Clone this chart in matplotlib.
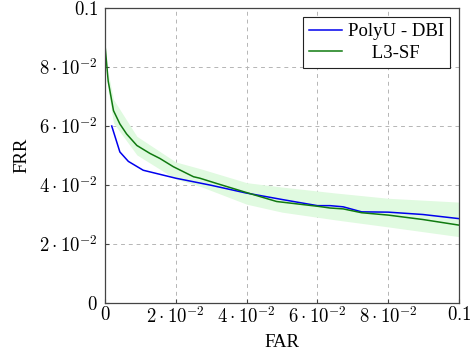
import matplotlib
matplotlib.use("Agg")
import matplotlib.pyplot as plt

plt.rcParams["mathtext.fontset"] = "cm"
plt.rcParams["font.family"] = ["Liberation Serif", "DejaVu Serif"]

# PolyU - DBI curve
blue_far = [0.0019, 0.0042, 0.0066, 0.0108, 0.020, 0.030, 0.0398, 0.0504,
            0.060, 0.0636, 0.0673, 0.0725, 0.080, 0.0898, 0.1]
blue_frr = [0.060, 0.0512, 0.048, 0.045, 0.0423, 0.0399, 0.0373, 0.035,
            0.033, 0.033, 0.0326, 0.0309, 0.0308, 0.030, 0.0286]

# L3-SF curve
green_far = [0.0, 0.0009, 0.0024, 0.0042, 0.0061, 0.009, 0.0127, 0.0155,
             0.0193, 0.025, 0.0268, 0.0316, 0.0398, 0.0485, 0.060, 0.0636,
             0.0673, 0.0725, 0.080, 0.0898, 0.1]
green_frr = [0.0875, 0.0752, 0.0652, 0.0607, 0.0573, 0.0534, 0.0507, 0.049,
             0.0462, 0.0428, 0.0423, 0.0405, 0.0375, 0.0344, 0.0328, 0.0322,
             0.0319, 0.0306, 0.0298, 0.0283, 0.0264]

# L3-SF spread band
band_far = [0.0009, 0.0024, 0.009, 0.02, 0.027, 0.04, 0.05, 0.065, 0.08, 0.1]
band_lo = [0.072, 0.061, 0.0502, 0.0420, 0.0395, 0.0335, 0.0308, 0.0282, 0.0258, 0.0225]
band_hi = [0.078, 0.069, 0.0565, 0.0478, 0.0455, 0.0408, 0.0393, 0.0373, 0.0355, 0.0342]

ticks = [0, 0.02, 0.04, 0.06, 0.08, 0.1]
tick_labels = [r"$0$", r"$2\cdot10^{-2}$", r"$4\cdot10^{-2}$",
               r"$6\cdot10^{-2}$", r"$8\cdot10^{-2}$", r"$0.1$"]

fig = plt.figure(figsize=(4.7, 3.58), dpi=100)
ax = fig.add_axes([0.2234, 0.1536, 0.7532, 0.8241])

ax.fill_between(band_far, band_lo, band_hi, color="#e0fae0", lw=0)
ax.plot(blue_far, blue_frr, color="#0000ee", lw=1.1, label="PolyU - DBI")
ax.plot(green_far, green_frr, color="#107a10", lw=1.1, label="     L3-SF")

ax.set_xlim(0, 0.1)
ax.set_ylim(0, 0.1)
ax.set_xticks(ticks)
ax.set_xticklabels(tick_labels)
ax.set_yticks(ticks)
ax.set_yticklabels(tick_labels)
ax.tick_params(labelsize=13.5, direction="in", length=3, color="#444444", pad=5)
ax.tick_params(axis="x", pad=2)

ax.grid(True, color="#b5b5b5", lw=0.7, ls=(0, (4, 4)))
ax.set_axisbelow(True)
for s in ax.spines.values():
    s.set_color("#444444")
    s.set_linewidth(0.9)

ax.set_xlabel("FAR", fontsize=13.5, labelpad=5)
ax.set_ylabel("FRR", fontsize=13.5, labelpad=6)

leg = ax.legend(loc="upper right", fontsize=13.5, fancybox=False, framealpha=1,
                edgecolor="#222222", handlelength=1.8, handletextpad=0.3,
                borderaxespad=0.5, labelspacing=0.25, borderpad=0.3)
leg.get_frame().set_linewidth(0.8)

fig.savefig("out.png", dpi=100)
